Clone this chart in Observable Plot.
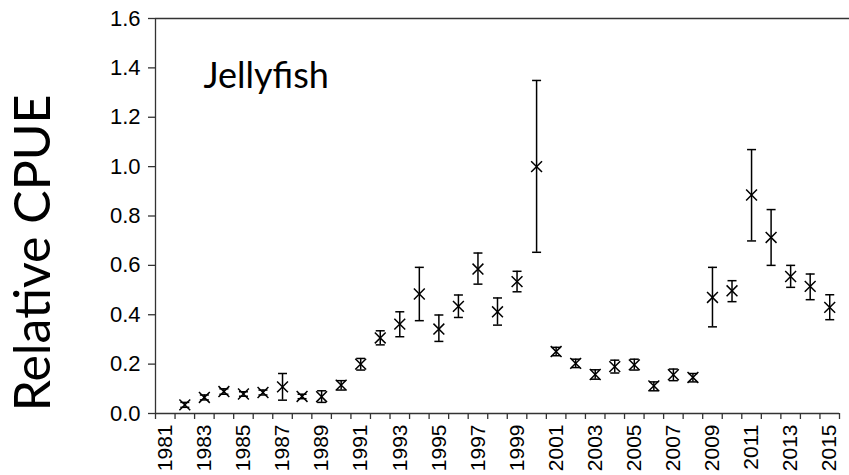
<!DOCTYPE html>
<html>
<head>
<meta charset="utf-8">
<script src="https://cdn.jsdelivr.net/npm/d3@7"></script>
<script src="https://cdn.jsdelivr.net/npm/@observablehq/plot@0.6"></script>
<style>
  html, body { margin: 0; padding: 0; background: #fff; }
  #chart g[aria-label="y-axis tick label"], #chart g[aria-label="y-axis tick label"] text { font-size: 22px !important; }
  #chart g[aria-label="x-axis tick label"], #chart g[aria-label="x-axis tick label"] text { font-size: 21px !important; }
</style>
</head>
<body>
<div id="chart"></div>
<script>
// ---- data ----
const categories = d3.range(1981, 2016); // category axis 1981..2015
const years = [1982,1983,1984,1985,1986,1987,1988,1989,1990,1991,1992,1993,1994,1995,1996,1997,1998,1999,2000,
               2001,2002,2003,2004,2005,2006,2007,2008,2009,2010,2011,2012,2013,2014,2015];
const cpue  = [0.035,0.065,0.089,0.079,0.085,0.108,0.069,0.068,0.115,0.200,0.306,0.362,0.484,0.342,0.434,0.585,0.412,0.534,1.000,
               0.251,0.203,0.158,0.190,0.197,0.112,0.157,0.146,0.470,0.497,0.885,0.713,0.555,0.515,0.430];
const lower = [0.025,0.055,0.078,0.070,0.075,0.054,0.060,0.045,0.095,0.176,0.278,0.311,0.376,0.292,0.389,0.524,0.358,0.493,0.653,
               0.234,0.186,0.139,0.164,0.176,0.092,0.133,0.128,0.351,0.453,0.699,0.600,0.511,0.461,0.380];
const upper = [0.045,0.075,0.100,0.088,0.095,0.162,0.078,0.092,0.133,0.223,0.335,0.412,0.592,0.399,0.480,0.650,0.468,0.576,1.349,
               0.268,0.220,0.177,0.216,0.220,0.128,0.180,0.162,0.592,0.538,1.069,0.826,0.600,0.565,0.481];
const yTicks = [0, 0.2, 0.4, 0.6, 0.8, 1.0, 1.2, 1.4, 1.6];
const xTickLabels = [1981,1983,1985,1987,1989,1991,1993,1995,1997,1999,2001,2003,2005,2007,2009,2011,2013,2015];
const seriesName = "Jellyfish";
const yTitle = "Relative CPUE";

const data = years.map((year, i) => ({year, value: cpue[i], lo: lower[i], hi: upper[i]}));
const boundaries = categories.map(c => c - 0.5).concat([categories[categories.length - 1] + 0.5]);

const capSymbol = {
  draw(ctx) { ctx.moveTo(-4.5, 0); ctx.lineTo(4.5, 0); }
};

const axisColor = "#333";

const chart = Plot.plot({
  width: 849,
  height: 475,
  marginLeft: 155,
  marginRight: 10,
  marginTop: 18,
  marginBottom: 62,
  style: {fontFamily: "'Liberation Sans', Arial, sans-serif", fontSize: "21px", color: "#000", background: "#fff"},
  x: {type: "linear", domain: [categories[0] - 0.5, categories[categories.length - 1] + 0.5]},
  y: {domain: [0, 1.6]},
  marks: [
    Plot.ruleY([0], {stroke: axisColor, strokeWidth: 1.3}),
    Plot.ruleY([1.6], {stroke: axisColor, strokeWidth: 1.3, insetRight: -10}),
    Plot.ruleX([categories[0] - 0.5], {stroke: axisColor, strokeWidth: 1.3}),
    Plot.axisY({ticks: yTicks, tickFormat: d3.format(".1f"), tickSize: 7, tickPadding: 8, fontSize: 22, label: null, stroke: axisColor, strokeWidth: 1.3}),
    Plot.axisX({ticks: boundaries, tickFormat: () => "", tickSize: 6, label: null, stroke: axisColor, strokeWidth: 1.3}),
    Plot.axisX({ticks: xTickLabels, tickSize: 0, tickPadding: 11, tickRotate: -90, tickFormat: d => String(d), fontSize: 21, label: null}),
    Plot.ruleX(data, {x: "year", y1: "lo", y2: "hi", stroke: "#000", strokeWidth: 1.5}),
    Plot.dot(data, {x: "year", y: "lo", symbol: capSymbol, stroke: "#000", strokeWidth: 1.5}),
    Plot.dot(data, {x: "year", y: "hi", symbol: capSymbol, stroke: "#000", strokeWidth: 1.5}),
    Plot.dot(data, {x: "year", y: "value", symbol: "times", r: 5, stroke: "#000", strokeWidth: 1.5}),
    Plot.text([seriesName], {frameAnchor: "top-left", dx: 48, dy: 44, textAnchor: "start", fontSize: 36, fontFamily: "Lato, sans-serif", fill: "#000"}),
    Plot.text([yTitle], {frameAnchor: "left", textAnchor: "middle", dx: -122, dy: 37, rotate: -90, fontSize: 50, fontFamily: "Lato, sans-serif", fill: "#000"})
  ]
});

document.getElementById("chart").appendChild(chart);
</script>
</body>
</html>
